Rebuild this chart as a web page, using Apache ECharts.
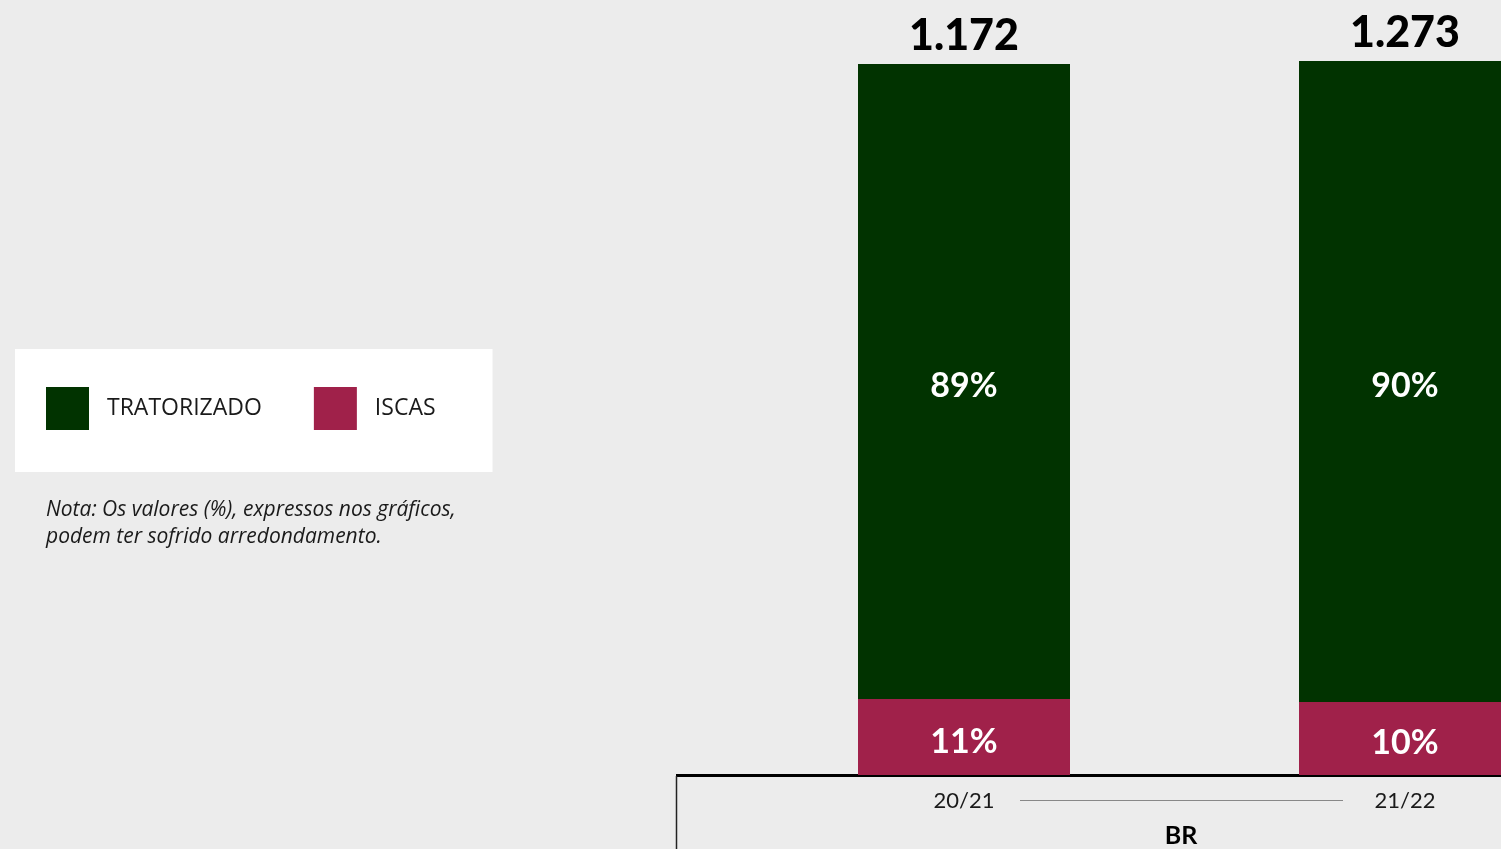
<!DOCTYPE html>
<html><head><meta charset="utf-8">
<script src="https://cdn.jsdelivr.net/npm/echarts@6/dist/echarts.min.js"></script>
<style>html,body{margin:0;padding:0;background:#ececec;}#c{width:1501px;height:849px;}</style>
</head><body><div id="c"></div>
<script>
const categories = ['20/21', '21/22'];
const tratorizado = [89.31, 90.15];
const iscas = [10.69, 10.27];
const totals = ['1.172', '1.273'];
const seriesNames = ['TRATORIZADO', 'ISCAS'];
const groupLabel = 'BR';
const note = 'Nota: Os valores (%), expressos nos gráficos,\npodem ter sofrido arredondamento.';

const chart = echarts.init(document.getElementById('c'));
const pctLabel = {
  show: true, position: 'inside', offset: [0, 5], color: '#ffffff', fontFamily: 'Lato', fontWeight: 'bold', fontSize: 34,
  formatter: p => Math.round(p.value) + '%'
};
chart.setOption({
  backgroundColor: '#ececec',
  animation: false,
  grid: { left: 743.5, width: 882, top: 28.45, height: 746.55, containLabel: false, outerBoundsMode: 'none' },
  legend: {
    data: seriesNames, left: 15, top: 349, orient: 'horizontal',
    backgroundColor: '#ffffff', padding: [38, 57, 42, 31],
    itemWidth: 43, itemHeight: 43, itemGap: 52, icon: 'rect',
    textStyle: { fontFamily: 'Open Sans', fontSize: 23, color: '#1a1a1a', padding: [12, 0, 0, 13] }
  },
  xAxis: {
    type: 'category', data: categories,
    axisLine: { lineStyle: { color: '#000', width: 3 } },
    axisTick: { show: false },
    axisLabel: { margin: 15, fontFamily: 'Lato', fontSize: 22, color: '#1a1a1a' }
  },
  yAxis: { type: 'value', min: 0, max: 105, show: false },
  series: [
    { name: 'ISCAS', type: 'bar', stack: 's', barWidth: 212, data: iscas,
      itemStyle: { color: '#a0214a' }, label: pctLabel },
    { name: 'TRATORIZADO', type: 'bar', stack: 's', barWidth: 212, data: tratorizado,
      itemStyle: { color: '#013300' }, label: pctLabel },
    { name: 'total', type: 'bar', stack: 's', barWidth: 212, data: [0, 0],
      itemStyle: { color: 'transparent' },
      label: { show: true, position: 'top', distance: 6, color: '#000', fontFamily: 'Lato', fontWeight: 900, fontSize: 43,
        formatter: p => totals[p.dataIndex] } }
  ],
  graphic: [
    { type: 'line', shape: { x1: 676, y1: 775.5, x2: 746, y2: 775.5 }, style: { stroke: '#000', lineWidth: 3 } },
    { type: 'line', shape: { x1: 676.5, y1: 776, x2: 676.5, y2: 849 }, style: { stroke: '#222', lineWidth: 1.5 } },
    { type: 'line', shape: { x1: 1020, y1: 800.5, x2: 1343, y2: 800.5 }, style: { stroke: '#888', lineWidth: 1 } },
    { type: 'text', x: 1181, y: 836, style: { text: groupLabel, fill: '#000', font: 'bold 25px Lato', textAlign: 'center', textVerticalAlign: 'middle' } },
    { type: 'text', x: 46, y: 497, style: { text: note, fill: '#1a1a1a', font: 'italic 21px "Open Sans"', lineHeight: 27, textAlign: 'left', textVerticalAlign: 'top' } }
  ]
});
</script></body></html>
